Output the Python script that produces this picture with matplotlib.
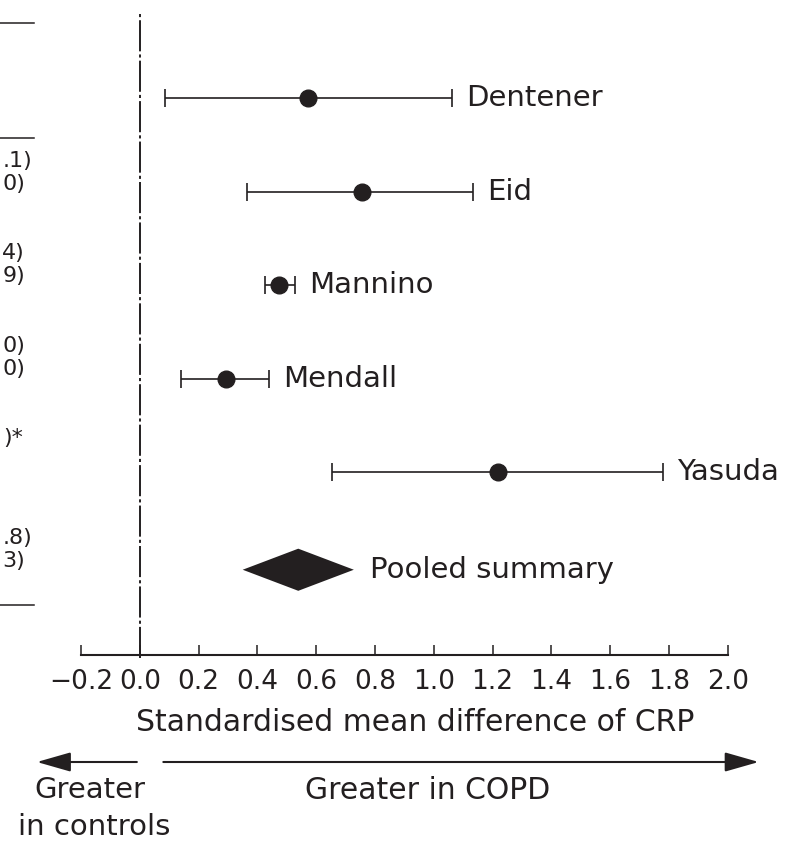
import matplotlib
matplotlib.use("Agg")
import matplotlib.pyplot as plt
from matplotlib.ticker import FixedLocator, FuncFormatter
from matplotlib.patches import Polygon

# study estimates (standardised mean difference of CRP) with 95% CI
studies = ["Dentener", "Eid", "Mannino", "Mendall", "Yasuda"]
smd = [0.573, 0.755, 0.475, 0.292, 1.218]
ci_low = [0.086, 0.364, 0.426, 0.139, 0.655]
ci_high = [1.063, 1.134, 0.528, 0.439, 1.780]

pooled_label = "Pooled summary"
pooled = 0.539
pooled_low = 0.350
pooled_high = 0.728

xticks = [-0.2, 0.0, 0.2, 0.4, 0.6, 0.8, 1.0, 1.2, 1.4, 1.6, 1.8, 2.0]

# fragments of the table column that is cut off at the left edge
table_bits = [".1)", "0)", "4)", "9)", "0)", "0)", ")*", ".8)", "3)"]
table_xy = [(32, 161), (25, 184), (25, 253), (25, 276), (25, 346), (25, 369),
            (23, 438), (32, 538), (25, 561)]
rule_y = [22.7, 138, 605]

W, H = 792, 846
FONT = ["DejaVu Sans"]
INK = "#231f20"
plt.rcParams["font.family"] = FONT

fig = plt.figure(figsize=(W / 100, H / 100), dpi=100)
ax_bottom = 655
ax = fig.add_axes([0, (H - ax_bottom) / H, 1, ax_bottom / H])

x_per_px = 1 / 294.0
x0_px = 139.8
ax.set_xlim(-x0_px * x_per_px, (W - x0_px) * x_per_px)
row_px = 93.6
row0_px = 98
ax.set_ylim((ax_bottom - row0_px) / row_px, -row0_px / row_px)

for s in ["top", "left", "right"]:
    ax.spines[s].set_visible(False)
ax.spines["bottom"].set_bounds(xticks[0], xticks[-1])
ax.spines["bottom"].set_linewidth(1.5)
ax.spines["bottom"].set_color(INK)
ax.set_yticks([])
ax.xaxis.set_major_locator(FixedLocator(xticks))
ax.xaxis.set_major_formatter(FuncFormatter(lambda v, p: f"{v:.1f}".replace("-", "\u2212")))
ax.tick_params(axis="x", direction="in", length=7.5, width=1.1, color=INK,
               labelsize=19, pad=10, labelcolor=INK)

# line of no effect
ax.axvline(0, ymin=-0.005, ymax=0.982, color=INK, lw=1.4,
           linestyle=(0, (16, 1.6, 1.6, 1.6)), clip_on=False)

rows = list(range(len(studies)))
ax.errorbar(smd, rows, xerr=[[m - l for m, l in zip(smd, ci_low)],
                             [h - m for m, h in zip(smd, ci_high)]],
            fmt="o", color=INK, ms=12, elinewidth=1.2, capsize=6.5, capthick=1.2)
for r, name, h in zip(rows, studies, ci_high):
    ax.annotate(name, (h, r), xytext=(10, 0), textcoords="offset points",
                va="center", ha="left", fontsize=21, color=INK)

prow = len(studies) + 0.04
half_h = 0.225
ax.add_patch(Polygon([(pooled_low, prow), (pooled, prow - half_h),
                      (pooled_high, prow), (pooled, prow + half_h)],
                     closed=True, color=INK, lw=0))
ax.annotate(pooled_label, (pooled_high, prow), xytext=(12, 0), textcoords="offset points",
            va="center", ha="left", fontsize=21, color=INK)


def fpx(x, y):
    return x / W, 1 - y / H


for t, (x, y) in zip(table_bits, table_xy):
    fig.text(*fpx(x, y), t, ha="right", va="center", fontsize=16, color=INK)
for y in rule_y:
    fig.add_artist(plt.Line2D([0, 34 / W], [1 - y / H] * 2, color=INK, lw=1.1))

fig.text(*fpx(415, 722), "Standardised mean difference of CRP", ha="center", va="center",
         fontsize=21.5, color=INK)

arrow_y = H - 762
arrow = dict(arrowstyle="-|>,head_length=21,head_width=6", mutation_scale=1,
             color=INK, lw=1.5, shrinkA=0, shrinkB=0)
ax.annotate("", xy=(-0.35, arrow_y), xytext=(-0.01, arrow_y),
            xycoords=("data", "figure pixels"), textcoords=("data", "figure pixels"),
            arrowprops=arrow, annotation_clip=False)
ax.annotate("", xy=(2.105, arrow_y), xytext=(0.08, arrow_y),
            xycoords=("data", "figure pixels"), textcoords=("data", "figure pixels"),
            arrowprops=arrow, annotation_clip=False)

fig.text(*fpx(90, 790), "Greater", ha="center", va="center", fontsize=21, color=INK)
fig.text(*fpx(94, 827), "in controls", ha="center", va="center", fontsize=21, color=INK)
fig.text(*fpx(428, 790), "Greater in COPD", ha="center", va="center", fontsize=21.5, color=INK)

fig.savefig("out.png", dpi=100)
